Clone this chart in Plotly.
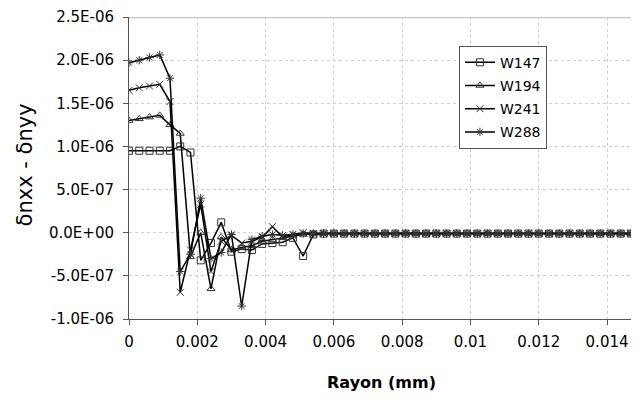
import plotly.graph_objects as go

# Rayon (mm), 0.0003 mm step
rayon = [0.0, 0.0003, 0.0006, 0.0009, 0.0012, 0.0015, 0.0018, 0.0021, 0.0024, 0.0027,
         0.0030, 0.0033, 0.0036, 0.0039, 0.0042, 0.0045, 0.0048, 0.0051, 0.0054, 0.0057,
         0.0060, 0.0063, 0.0066, 0.0069, 0.0072, 0.0075, 0.0078, 0.0081, 0.0084, 0.0087,
         0.0090, 0.0093, 0.0096, 0.0099, 0.0102, 0.0105, 0.0108, 0.0111, 0.0114, 0.0117,
         0.0120, 0.0123, 0.0126, 0.0129, 0.0132, 0.0135, 0.0138, 0.0141, 0.0144, 0.0147,
         0.0150]

# values in units of 1e-6
w147 = [0.95, 0.95, 0.95, 0.95, 0.95, 1.00, 0.93, -0.32, -0.12, 0.12,
        -0.22, -0.19, -0.20, -0.13, -0.12, -0.11, -0.06, -0.27, -0.02, -0.01,
        -0.01, -0.01, -0.01, -0.01, -0.01, -0.01, -0.01, -0.01, -0.01, -0.01,
        -0.01, -0.01, -0.01, -0.01, -0.01, -0.01, -0.01, -0.01, -0.01, -0.01,
        -0.01, -0.01, -0.01, -0.01, -0.01, -0.01, -0.01, -0.01, -0.01, -0.01,
        -0.01]
w194 = [1.30, 1.32, 1.34, 1.36, 1.25, 1.15, -0.28, 0.00, -0.65, -0.05,
        -0.20, -0.17, -0.15, -0.10, -0.08, -0.06, -0.04, -0.02, -0.01, -0.01,
        -0.01, -0.01, -0.01, -0.01, -0.01, -0.01, -0.01, -0.01, -0.01, -0.01,
        -0.01, -0.01, -0.01, -0.01, -0.01, -0.01, -0.01, -0.01, -0.01, -0.01,
        -0.01, -0.01, -0.01, -0.01, -0.01, -0.01, -0.01, -0.01, -0.01, -0.01,
        -0.01]
w241 = [1.65, 1.68, 1.70, 1.72, 1.52, -0.69, -0.20, 0.33, -0.45, -0.10,
        -0.03, -0.12, -0.10, -0.05, 0.07, -0.05, -0.02, 0.00, -0.01, -0.01,
        -0.01, -0.01, -0.01, -0.01, -0.01, -0.01, -0.01, -0.01, -0.01, -0.01,
        -0.01, -0.01, -0.01, -0.01, -0.01, -0.01, -0.01, -0.01, -0.01, -0.01,
        -0.01, -0.01, -0.01, -0.01, -0.01, -0.01, -0.01, -0.01, -0.01, -0.01,
        -0.01]
w288 = [1.97, 2.00, 2.03, 2.06, 1.79, -0.45, -0.25, 0.40, -0.30, -0.23,
        -0.02, -0.85, -0.08, -0.04, -0.02, -0.03, -0.02, -0.01, -0.01, -0.01,
        -0.01, -0.01, -0.01, -0.01, -0.01, -0.01, -0.01, -0.01, -0.01, -0.01,
        -0.01, -0.01, -0.01, -0.01, -0.01, -0.01, -0.01, -0.01, -0.01, -0.01,
        -0.01, -0.01, -0.01, -0.01, -0.01, -0.01, -0.01, -0.01, -0.01, -0.01,
        -0.01]

series = {"W147": w147, "W194": w194, "W241": w241, "W288": w288}
symbols = {"W147": "square-open", "W194": "triangle-up-open",
           "W241": "x-thin-open", "W288": "asterisk-open"}

y_tickvals = [-1.0e-6, -0.5e-6, 0.0, 0.5e-6, 1.0e-6, 1.5e-6, 2.0e-6, 2.5e-6]
y_ticktext = ["-1.0E-06", "-5.0E-07", "0.0E+00", "5.0E-07", "1.0E-06", "1.5E-06", "2.0E-06", "2.5E-06"]
x_tickvals = [0, 0.002, 0.004, 0.006, 0.008, 0.010, 0.012, 0.014]
x_ticktext = ["0", "0.002", "0.004", "0.006", "0.008", "0.01", "0.012", "0.014"]

FONT = "DejaVu Sans"

fig = go.Figure()
for name, vals in series.items():
    fig.add_trace(go.Scatter(
        x=rayon, y=[v * 1e-6 for v in vals], name=name, mode="lines+markers",
        legendgroup=name,
        line=dict(color="black", width=1.5),
        marker=dict(symbol=symbols[name], size=7, color="#333",
                    line=dict(color="#333", width=1)),
    ))

# thick light top border
fig.add_shape(type="line", xref="paper", yref="y", x0=0, x1=1, y0=2.5e-6, y1=2.5e-6,
              line=dict(color="#c4c4c4", width=2.5), layer="below")

# axis titles (placed by hand)
fig.add_annotation(text="δnxx - δnyy", xref="paper", yref="paper", x=-0.2, y=0.51,
                   xanchor="center", yanchor="middle", textangle=-90, showarrow=False,
                   font=dict(size=21, family=FONT))
fig.add_annotation(text="<b>Rayon (mm)</b>", xref="paper", yref="paper", x=0.487, y=-0.21,
                   xanchor="center", yanchor="middle", showarrow=False,
                   font=dict(size=16, family=FONT))

fig.update_layout(
    width=639, height=399,
    margin=dict(l=121, r=0, t=9, b=88),
    paper_bgcolor="white", plot_bgcolor="white",
    font=dict(family=FONT, color="black", size=15),
    legend=dict(x=0.637, y=0.905, xanchor="left", yanchor="top",
                bordercolor="#555", borderwidth=1, bgcolor="white",
                font=dict(size=14, family=FONT), tracegroupgap=2,
                itemwidth=30),
    showlegend=True,
)
fig.update_xaxes(
    range=[0, 0.01517], tickvals=x_tickvals, ticktext=x_ticktext,
    showline=True, linecolor="#555", linewidth=1,
    ticks="outside", ticklen=5, tickcolor="#555",
    showgrid=True, gridcolor="#cfcfcf", griddash="3px,3px", gridwidth=1,
    zeroline=False, tickfont=dict(size=15), automargin=False, ticklabelstandoff=4,
    ticklabeloverflow="allow",
)
fig.update_yaxes(
    range=[-1.0e-6, 2.5e-6], tickvals=y_tickvals, ticktext=y_ticktext,
    showline=True, linecolor="#555", linewidth=1,
    ticks="outside", ticklen=5, tickcolor="#555",
    showgrid=True, gridcolor="#cfcfcf", griddash="3px,3px", gridwidth=1,
    zeroline=False, tickfont=dict(size=15), automargin=False, ticklabelstandoff=6,
    ticklabeloverflow="allow",
)

fig.write_html("out.html")
